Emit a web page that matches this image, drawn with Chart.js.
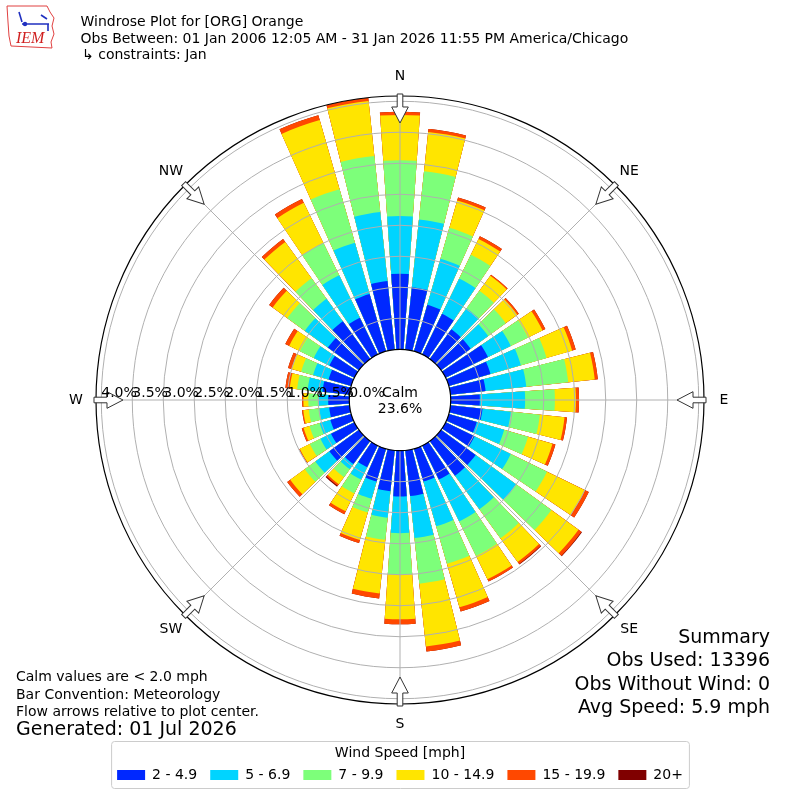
<!DOCTYPE html>
<html>
<head>
<meta charset="utf-8">
<script src="https://cdn.jsdelivr.net/npm/chart.js@4.4.1/dist/chart.umd.min.js"></script>
<style>
  html, body { margin: 0; padding: 0; background: #fff; }
  #wrap { width: 800px; height: 800px; }
</style>
</head>
<body>
<div id="wrap"><canvas id="rose" width="800" height="800"></canvas></div>
<script>
// directions (deg, meteorological) and frequency (%) per speed bin
const directions = [0, 10, 20, 30, 40, 50, 60, 70, 80, 90, 100, 110, 120, 130, 140, 150, 160, 170,
  180, 190, 200, 210, 220, 230, 240, 250, 260, 270, 280, 290, 300, 310, 320, 330, 340, 350];
const speedBins = ['2 - 4.9', '5 - 6.9', '7 - 9.9', '10 - 14.9', '15 - 19.9', '20+'];
const speed2to5 = [1.22, 1.01, 0.78, 0.73, 0.59, 0.59, 0.76, 0.70, 0.57, 0.47, 0.52, 0.47, 0.52, 0.69, 0.69, 0.61, 0.55, 0.74,
  0.74, 0.66, 0.55, 0.39, 0.46, 0.59, 0.42, 0.35, 0.33, 0.34, 0.44, 0.38, 0.45, 0.62, 0.75, 0.66, 0.96, 1.11];
const speed5to7 = [0.93, 1.10, 0.77, 0.63, 0.42, 0.35, 0.41, 0.51, 0.66, 0.73, 0.46, 0.46, 0.65, 0.81, 0.67, 0.75, 0.75, 0.68,
  0.59, 0.43, 0.29, 0.22, 0.10, 0.28, 0.19, 0.18, 0.16, 0.16, 0.24, 0.26, 0.28, 0.46, 0.45, 0.76, 0.86, 1.12];
const speed7to10 = [0.90, 0.78, 0.52, 0.43, 0.35, 0.35, 0.31, 0.43, 0.68, 0.48, 0.47, 0.40, 0.65, 0.70, 0.58, 0.62, 0.63, 0.74,
  0.67, 0.36, 0.23, 0.25, 0.16, 0.21, 0.19, 0.17, 0.17, 0.16, 0.17, 0.20, 0.25, 0.35, 0.41, 0.58, 0.90, 0.91];
const speed10to15 = [0.73, 0.64, 0.46, 0.28, 0.30, 0.23, 0.26, 0.43, 0.43, 0.34, 0.40, 0.41, 0.68, 0.54, 0.47, 0.42, 0.73, 1.02,
  0.72, 0.87, 0.46, 0.32, 0.14, 0.29, 0.18, 0.10, 0.09, 0.08, 0.12, 0.16, 0.19, 0.29, 0.72, 0.72, 1.16, 0.89];
const speed15to20 = [0.05, 0.05, 0.05, 0.05, 0.02, 0.03, 0.05, 0.06, 0.05, 0.05, 0.04, 0.05, 0.07, 0.06, 0.04, 0.04, 0.07, 0.08,
  0.08, 0.08, 0.05, 0.05, 0.03, 0.06, 0.01, 0.03, 0.02, 0.02, 0.07, 0.06, 0.07, 0.07, 0.06, 0.07, 0.08, 0.05];
const speed20plus = [0, 0, 0, 0, 0, 0, 0, 0, 0, 0, 0, 0, 0, 0.01, 0.01, 0, 0, 0,
  0, 0, 0, 0, 0.02, 0, 0, 0, 0, 0, 0, 0, 0, 0, 0, 0, 0, 0];
const calmPct = 23.6;
const rTicks = [0, 0.5, 1.0, 1.5, 2.0, 2.5, 3.0, 3.5, 4.0];
const rOuter = 4.085; // axis limit (outer black ring)
const compass = ['N', 'NE', 'E', 'SE', 'S', 'SW', 'W', 'NW'];

const titleLines = [
  'Windrose Plot for [ORG] Orange',
  'Obs Between: 01 Jan 2006 12:05 AM - 31 Jan 2026 11:55 PM America/Chicago',
  '\u21b3 constraints: Jan'
];
const summaryLines = ['Summary', 'Obs Used: 13396', 'Obs Without Wind: 0', 'Avg Speed: 5.9 mph'];
const noteLines = ['Calm values are < 2.0 mph', 'Bar Convention: Meteorology', 'Flow arrows relative to plot center.'];
const generatedText = 'Generated: 01 Jul 2026';

const binColors = ['#0028ff', '#00d4ff', '#7dff7a', '#ffe500', '#ff4800', '#800000'];
const barWidth = 8, gapWidth = 2; // degrees

Chart.defaults.font.family = '"DejaVu Sans", sans-serif';
Chart.defaults.color = '#000';

// stacked -> cumulative radii, each sector followed by a small empty gap sector
const bins = [speed2to5, speed5to7, speed7to10, speed10to15, speed15to20, speed20plus];
const cumulative = [];
let run = directions.map(() => 0);
bins.forEach(b => {
  run = run.map((v, i) => v + b[i]);
  cumulative.push(run);
});
const labels = directions.flatMap(d => [d + '\u00b0', '']);
const datasets = cumulative.map((c, k) => ({
  label: speedBins[k],
  data: c.flatMap(v => [v, 0]),
  backgroundColor: ctx => ctx.dataIndex % 2 ? 'rgba(0,0,0,0)' : binColors[k],
  borderWidth: 0,
  angle: ctx => ctx.dataIndex % 2 ? gapWidth : barWidth
}));

const F = (size) => size + 'px "DejaVu Sans", sans-serif';

const rosePlugin = {
  id: 'rose',
  afterDatasetsDraw(chart) {
    const ctx = chart.ctx, sc = chart.scales.r;
    const cx = sc.xCenter, cy = sc.yCenter;
    const r0 = sc.getDistanceFromCenterForValue(0);
    const r1 = sc.getDistanceFromCenterForValue(rOuter);
    ctx.save();
    ctx.strokeStyle = '#b0b0b0';
    ctx.lineWidth = 1;
    for (let k = 0; k < 8; k++) {
      const a = k * Math.PI / 4;
      ctx.beginPath();
      ctx.moveTo(cx + r0 * Math.sin(a), cy - r0 * Math.cos(a));
      ctx.lineTo(cx + r1 * Math.sin(a), cy - r1 * Math.cos(a));
      ctx.stroke();
    }
    // calm circle
    ctx.beginPath();
    ctx.arc(cx, cy, r0, 0, 2 * Math.PI);
    ctx.fillStyle = '#fff';
    ctx.fill();
    ctx.strokeStyle = '#000';
    ctx.lineWidth = 1.2;
    ctx.stroke();
    ctx.restore();
  },
  afterDraw(chart) {
    const ctx = chart.ctx, sc = chart.scales.r;
    const cx = sc.xCenter, cy = sc.yCenter;
    const r1 = sc.getDistanceFromCenterForValue(rOuter);
    ctx.save();

    // outer ring
    ctx.beginPath();
    ctx.arc(cx, cy, r1, 0, 2 * Math.PI);
    ctx.strokeStyle = '#000';
    ctx.lineWidth = 1.2;
    ctx.stroke();

    // flow arrows + compass labels
    compass.forEach((name, k) => {
      const a = k * Math.PI / 4;
      ctx.save();
      ctx.translate(cx, cy);
      ctx.rotate(a);
      ctx.beginPath();
      ctx.moveTo(-2.8, -r1 - 2);
      ctx.lineTo(2.8, -r1 - 2);
      ctx.lineTo(2.8, -r1 + 11);
      ctx.lineTo(8.3, -r1 + 11);
      ctx.lineTo(0, -r1 + 27);
      ctx.lineTo(-8.3, -r1 + 11);
      ctx.lineTo(-2.8, -r1 + 11);
      ctx.closePath();
      ctx.fillStyle = '#fff';
      ctx.fill();
      ctx.strokeStyle = '#333';
      ctx.lineWidth = 1;
      ctx.stroke();
      ctx.restore();
      const rl = r1 + 20;
      ctx.font = F(14);
      ctx.fillStyle = '#000';
      ctx.textAlign = 'center';
      ctx.textBaseline = 'middle';
      ctx.fillText(name, cx + rl * Math.sin(a), cy - rl * Math.cos(a));
    });

    // radial tick labels along west axis
    ctx.font = F(14);
    ctx.textAlign = 'left';
    ctx.textBaseline = 'alphabetic';
    ctx.fillStyle = '#000';
    rTicks.forEach(v => {
      ctx.fillText(v.toFixed(1) + '%', cx - sc.getDistanceFromCenterForValue(v), cy - 3);
    });

    // calm text
    ctx.textAlign = 'center';
    ctx.fillText('Calm', cx, cy - 3);
    ctx.fillText(calmPct.toFixed(1) + '%', cx, cy + 12.5);

    // header
    ctx.textAlign = 'left';
    ctx.fillText(titleLines[0], 80.5, 25.5);
    ctx.fillText(titleLines[1], 80.5, 42.5);
    ctx.fillText(titleLines[2], 82, 59);

    // notes bottom-left
    noteLines.forEach((t, i) => ctx.fillText(t, 16, 681 + i * 17.5));
    ctx.font = F(19);
    ctx.fillText(generatedText, 16, 735);

    // summary bottom-right
    ctx.textAlign = 'right';
    summaryLines.forEach((t, i) => ctx.fillText(t, 770, 643 + i * 23.3));

    // logo
    ctx.strokeStyle = '#e04040';
    ctx.lineWidth = 1;
    ctx.beginPath();
    ctx.moveTo(7, 6);
    ctx.lineTo(47, 6);
    ctx.lineTo(50, 12);
    ctx.lineTo(54, 18);
    ctx.lineTo(52, 26);
    ctx.lineTo(54, 34);
    ctx.lineTo(51, 42);
    ctx.lineTo(52, 48);
    ctx.lineTo(11, 46);
    ctx.lineTo(9, 36);
    ctx.lineTo(8, 22);
    ctx.closePath();
    ctx.stroke();
    ctx.strokeStyle = '#2030c0';
    ctx.fillStyle = '#2030c0';
    ctx.lineWidth = 1.6;
    ctx.beginPath();
    ctx.moveTo(22, 24);
    ctx.lineTo(49, 24);
    ctx.moveTo(19, 12);
    ctx.lineTo(22, 22);
    ctx.moveTo(41, 15);
    ctx.lineTo(47, 19);
    ctx.moveTo(48, 24);
    ctx.lineTo(48, 31);
    ctx.stroke();
    ctx.beginPath();
    ctx.arc(25, 24, 2.2, 0, 2 * Math.PI);
    ctx.fill();
    ctx.fillStyle = '#d02020';
    ctx.font = 'italic 16px "Liberation Serif", serif';
    ctx.textAlign = 'left';
    ctx.fillText('IEM', 16, 43);

    // legend frame
    const lg = chart.legend;
    const hb = lg.legendHitBoxes;
    if (hb && hb.length) {
      const last = hb[hb.length - 1];
      const x0 = hb[0].left - 6, x1 = last.left + last.width + 6;
      const y0 = lg.top - 5, y1 = lg.top + 42;
      ctx.beginPath();
      ctx.roundRect(x0 + 0.5, y0 + 0.5, x1 - x0, y1 - y0, 3);
      ctx.strokeStyle = '#cccccc';
      ctx.lineWidth = 1;
      ctx.stroke();
    }
    ctx.restore();
  }
};

new Chart(document.getElementById('rose'), {
  type: 'polarArea',
  data: { labels: labels, datasets: datasets },
  options: {
    responsive: false,
    animation: false,
    events: [],
    layout: { padding: { top: 54, left: 80, right: 80, bottom: 8 } },
    scales: {
      r: {
        min: -0.818,
        max: 4.343,
        bounds: 'data',
        startAngle: -barWidth / 2,
        afterBuildTicks: (scale) => { scale.ticks = rTicks.map(v => ({ value: v })); },
        ticks: { display: false },
        pointLabels: { display: false },
        angleLines: { display: false },
        grid: {
          z: 1,
          circular: true,
          lineWidth: 1,
          color: c => (c.tick && c.tick.value === 0) ? 'rgba(0,0,0,0)' : '#b0b0b0'
        }
      }
    },
    plugins: {
      tooltip: { enabled: false },
      legend: {
        display: true,
        position: 'bottom',
        labels: {
          boxWidth: 28,
          boxHeight: 10,
          padding: 13,
          font: { size: 14 },
          color: '#000',
          generateLabels: () => speedBins.map((t, i) => ({
            text: t, fillStyle: binColors[i], strokeStyle: binColors[i], lineWidth: 0, hidden: false, datasetIndex: i
          }))
        },
        title: {
          display: true,
          text: 'Wind Speed [mph]',
          color: '#000',
          font: { size: 14, lineHeight: 0.6 },
          padding: { top: 0, bottom: 0.6 }
        }
      }
    }
  },
  plugins: [rosePlugin]
});
</script>
</body>
</html>
